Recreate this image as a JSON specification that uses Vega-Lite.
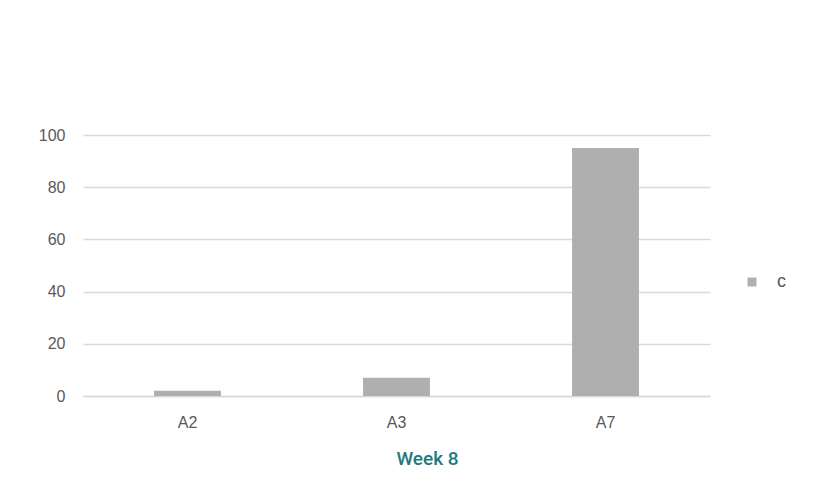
{
  "$schema": "https://vega.github.io/schema/vega-lite/v6.json",
  "width": 627,
  "height": 261,
  "autosize": {"type": "none"},
  "padding": {"left": 83, "top": 135, "right": 119, "bottom": 93},
  "background": "white",
  "config": {"view": {"stroke": null}, "font": "Liberation Sans"},
  "data": {"values": [
    {"cat": "A2", "value": 2, "series": "c"},
    {"cat": "A3", "value": 7, "series": "c"},
    {"cat": "A7", "value": 95, "series": "c"}
  ]},
  "mark": {"type": "bar", "color": "#afafaf"},
  "encoding": {
    "x": {"field": "cat", "type": "nominal", "scale": {"paddingInner": 0.68, "paddingOuter": 0.34},
      "axis": {"title": "Week 8", "titleColor": "#217a80", "titleFontSize": 19, "titleFont": "Roboto", "titleFontWeight": 500, "titlePadding": 19, "titleX": 344, "titleAlign": "center",
        "labelAngle": 0, "labelColor": "#595959", "labelFontSize": 16, "labelPadding": 18, "ticks": false, "domainColor": "#d9d9d9", "domainWidth": 1.5}},
    "y": {"field": "value", "type": "quantitative", "scale": {"domain": [0, 100]},
      "axis": {"title": null, "values": [0, 20, 40, 60, 80, 100], "labelColor": "#595959", "labelFontSize": 16, "labelPadding": 18, "ticks": false, "domain": false, "gridColor": "#d9d9d9", "gridWidth": 1.5}},
    "fill": {"field": "series", "type": "nominal", "scale": {"range": ["#afafaf"]},
      "legend": {"title": null, "orient": "none", "legendX": 660, "legendY": 138, "symbolType": "square", "symbolSize": 80, "labelFontSize": 18, "labelColor": "#595959", "labelOffset": 16}}
  }
}
